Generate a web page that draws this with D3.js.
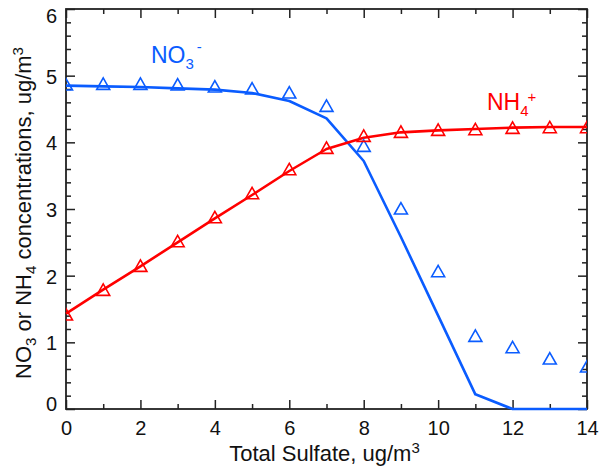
<!DOCTYPE html>
<html>
<head>
<meta charset="utf-8">
<script src="https://cdn.jsdelivr.net/npm/d3@7"></script>
<style>
  body { margin: 0; background: #fff; }
  svg { display: block; }
  text { font-family: "Liberation Sans", Arial, Helvetica, sans-serif; }
</style>
</head>
<body>
<svg id="chart" width="600" height="474"></svg>
<script>
// Total sulfate (ug/m3) on the x axis
const sulfate = [0, 1, 2, 3, 4, 5, 6, 7, 8, 9, 10, 11, 12, 13, 14];
// Modelled concentrations (lines)
const no3Model = [4.85, 4.84, 4.83, 4.81, 4.79, 4.74, 4.62, 4.36, 3.72, 2.58, 1.40, 0.22, 0, 0, 0];
const nh4Model = [1.43, 1.79, 2.14, 2.50, 2.86, 3.21, 3.57, 3.90, 4.07, 4.15, 4.18, 4.20, 4.22, 4.23, 4.23];
// Reference concentrations (open triangles)
const no3Points = [4.87, 4.88, 4.88, 4.87, 4.84, 4.81, 4.75, 4.55, 3.95, 3.01, 2.07, 1.10, 0.93, 0.76, 0.64];
const nh4Points = [1.42, 1.79, 2.15, 2.52, 2.88, 3.24, 3.60, 3.92, 4.10, 4.16, 4.19, 4.20, 4.22, 4.23, 4.23];
// Axis ticks
const xTicks = [0, 2, 4, 6, 8, 10, 12, 14];
const yTicks = [0, 1, 2, 3, 4, 5, 6];

const BLUE = "#0a5cff";
const RED = "#ff0000";
const AXIS = "#222";

const W = 600, H = 474;
const margin = { top: 9, right: 13, bottom: 65, left: 66 };
const svg = d3.select("#chart");

const x = d3.scaleLinear().domain([0, 14]).range([margin.left, W - margin.right]);
const y = d3.scaleLinear().domain([0, 6]).range([H - margin.bottom, margin.top]);

const xMinor = x.ticks(14).filter(v => !xTicks.includes(v));
const yMinor = y.ticks(24).filter(v => !yTicks.includes(v));

const MAJOR = 9, MINOR = 5;

function styleAxis(g) {
  g.select(".domain").remove();
  g.selectAll(".tick line").attr("stroke", AXIS).attr("stroke-width", 1.5);
  g.selectAll(".tick text").attr("fill", "#111").style("font-size", "20px");
}

// Bottom axis: inward ticks with labels
svg.append("g")
  .attr("transform", `translate(0,${y(0)})`)
  .call(d3.axisBottom(x).tickValues(xTicks).tickSize(-MAJOR).tickPadding(12).tickFormat(d3.format("d")))
  .call(styleAxis);
svg.append("g")
  .attr("transform", `translate(0,${y(0)})`)
  .call(d3.axisBottom(x).tickValues(xMinor).tickSize(-MINOR).tickFormat(""))
  .call(styleAxis);

// Top axis: ticks only
svg.append("g")
  .attr("transform", `translate(0,${y(6)})`)
  .call(d3.axisTop(x).tickValues(xTicks).tickSize(-MAJOR).tickFormat(""))
  .call(styleAxis);
svg.append("g")
  .attr("transform", `translate(0,${y(6)})`)
  .call(d3.axisTop(x).tickValues(xMinor).tickSize(-MINOR).tickFormat(""))
  .call(styleAxis);

// Left axis: inward ticks with labels
const yAxisG = svg.append("g")
  .attr("transform", `translate(${x(0)},0)`)
  .call(d3.axisLeft(y).tickValues(yTicks).tickSize(-MAJOR).tickPadding(9).tickFormat(d3.format("d")))
  .call(styleAxis);
// keep the end labels inside the frame height
yAxisG.selectAll(".tick text")
  .attr("dy", d => d === 6 ? "0.32em" : "0.32em")
  .attr("transform", d => d === 6 ? "translate(0,7)" : d === 0 ? "translate(0,-5)" : "translate(0,1)");
svg.append("g")
  .attr("transform", `translate(${x(0)},0)`)
  .call(d3.axisLeft(y).tickValues(yMinor).tickSize(-MINOR).tickFormat(""))
  .call(styleAxis);

// Right axis: ticks only
svg.append("g")
  .attr("transform", `translate(${x(14)},0)`)
  .call(d3.axisRight(y).tickValues(yTicks).tickSize(-MAJOR).tickFormat(""))
  .call(styleAxis);
svg.append("g")
  .attr("transform", `translate(${x(14)},0)`)
  .call(d3.axisRight(y).tickValues(yMinor).tickSize(-MINOR).tickFormat(""))
  .call(styleAxis);

// Plot frame
svg.append("rect")
  .attr("x", x(0)).attr("y", y(6))
  .attr("width", x(14) - x(0)).attr("height", y(0) - y(6))
  .attr("fill", "none").attr("stroke", AXIS).attr("stroke-width", 1.8);

// Clip for the markers
svg.append("clipPath").attr("id", "plotClip")
  .append("rect")
  .attr("x", x(0)).attr("y", y(6))
  .attr("width", x(14) - x(0)).attr("height", y(0) - y(6));

// Lines
const line = d3.line().x((d, i) => x(sulfate[i])).y(d => y(d));
svg.append("path").datum(no3Model)
  .attr("d", line).attr("fill", "none").attr("stroke", BLUE)
  .attr("stroke-width", 2.6).attr("stroke-linejoin", "round");
svg.append("path").datum(nh4Model)
  .attr("d", line).attr("fill", "none").attr("stroke", RED)
  .attr("stroke-width", 2.6).attr("stroke-linejoin", "round");

// Open triangle symbol, centred on its bounding box
const triangle = {
  draw(ctx, size) {
    const hw = Math.sqrt(size) / 2, hh = hw * 0.88;
    ctx.moveTo(0, -hh);
    ctx.lineTo(hw, hh);
    ctx.lineTo(-hw, hh);
    ctx.closePath();
  }
};
const sym = d3.symbol(triangle, 13 * 13);

const marks = svg.append("g").attr("clip-path", "url(#plotClip)");
marks.selectAll("path.no3").data(no3Points).join("path")
  .attr("class", "no3")
  .attr("transform", (d, i) => `translate(${x(sulfate[i])},${y(d)})`)
  .attr("d", sym).attr("fill", "none").attr("stroke", BLUE).attr("stroke-width", 1.6);
marks.selectAll("path.nh4").data(nh4Points).join("path")
  .attr("class", "nh4")
  .attr("transform", (d, i) => `translate(${x(sulfate[i])},${y(d)})`)
  .attr("d", sym).attr("fill", "none").attr("stroke", RED).attr("stroke-width", 1.6);

// Series labels
const no3Label = svg.append("text").attr("x", 151).attr("y", 63)
  .attr("fill", BLUE).style("font-size", "23px");
no3Label.append("tspan").text("NO");
no3Label.append("tspan").attr("dy", 6).style("font-size", "15px").text("3");
no3Label.append("tspan").attr("dy", -17).attr("dx", 3).style("font-size", "15px").text("-");

const nh4Label = svg.append("text").attr("x", 487).attr("y", 110)
  .attr("fill", RED).style("font-size", "23px");
nh4Label.append("tspan").text("NH");
nh4Label.append("tspan").attr("dy", 6).style("font-size", "15px").text("4");
nh4Label.append("tspan").attr("dy", -14).attr("dx", -1).style("font-size", "15px").text("+");

// Axis titles
const xTitle = svg.append("text")
  .attr("x", (x(0) + x(14)) / 2 - 2).attr("y", 461)
  .attr("text-anchor", "middle").attr("fill", "#111").style("font-size", "22px");
xTitle.append("tspan").text("Total Sulfate, ug/m");
xTitle.append("tspan").attr("dy", -8).style("font-size", "15px").text("3");

const yTitle = svg.append("text")
  .attr("transform", `translate(31,${213}) rotate(-90)`)
  .attr("text-anchor", "middle").attr("fill", "#111").style("font-size", "22px");
yTitle.append("tspan").text("NO");
yTitle.append("tspan").attr("dy", 5).style("font-size", "15px").text("3");
yTitle.append("tspan").attr("dy", -5).text(" or NH");
yTitle.append("tspan").attr("dy", 5).style("font-size", "15px").text("4");
yTitle.append("tspan").attr("dy", -5).text(" concentrations, ug/m");
yTitle.append("tspan").attr("dy", -8).style("font-size", "15px").text("3");
</script>
</body>
</html>
